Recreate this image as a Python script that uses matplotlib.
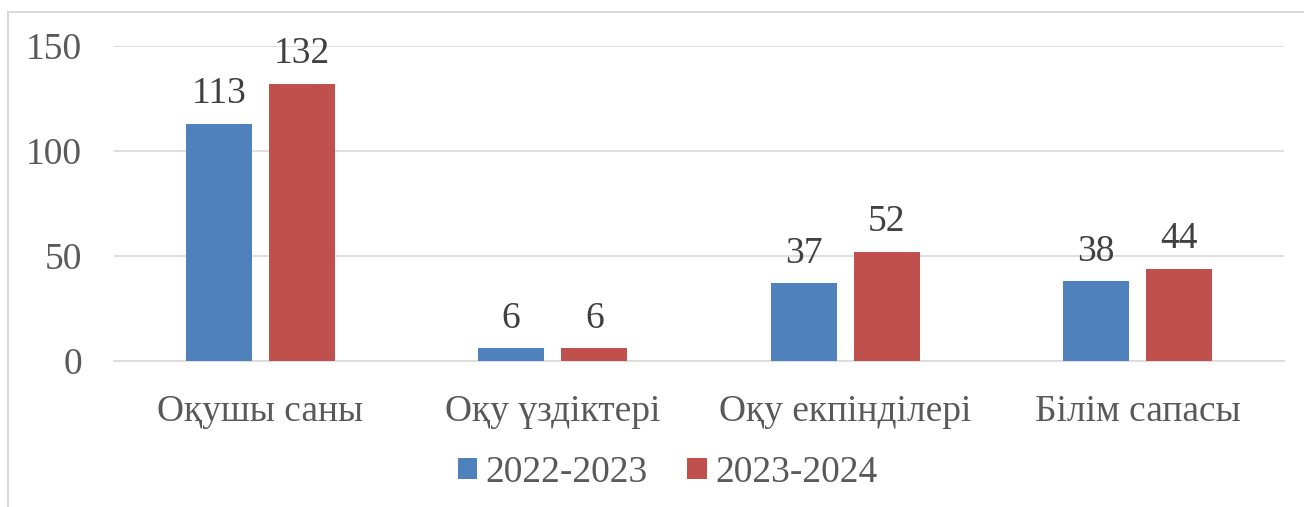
import numpy as np
import matplotlib.pyplot as plt
from matplotlib.patches import Rectangle

categories = ['Оқушы саны', 'Оқу үздіктері', 'Оқу екпінділері', 'Білім сапасы']
years = ['2022-2023', '2023-2024']
vals_2022 = [113, 6, 37, 38]
vals_2023 = [132, 6, 52, 44]

blue = '#4F81BD'
red = '#C0504D'
txt = '#595959'

plt.rcParams['font.family'] = ['Liberation Serif', 'DejaVu Serif']

fig = plt.figure(figsize=(13.04, 5.07), dpi=100)
ax = fig.add_axes([0.0874, 0.288, 0.8973, 0.6213])

x = np.arange(len(categories))
w = 0.226
off = 0.142
b1 = ax.bar(x - off, vals_2022, w, color=blue, label=years[0], zorder=3)
b2 = ax.bar(x + off, vals_2023, w, color=red, label=years[1], zorder=3)

for bars in (b1, b2):
    for r in bars:
        ax.annotate(f'{r.get_height():g}', (r.get_x() + r.get_width() / 2, r.get_height()),
                    xytext=(0, 9), textcoords='offset points', ha='center', va='bottom',
                    fontsize=27, color='#404040')

ax.set_xlim(-0.5, 3.5)
ax.set_ylim(0, 150)
ax.set_yticks([0, 50, 100, 150])
ax.yaxis.grid(True, color='#D9D9D9', linewidth=1.2, zorder=0)
ax.tick_params(axis='y', length=0, pad=23, labelsize=27, labelcolor=txt)
ax.set_xticks(x)
ax.set_xticklabels(categories)
ax.tick_params(axis='x', length=0, pad=24, labelsize=27, labelcolor=txt)
for s in ['top', 'right', 'left']:
    ax.spines[s].set_visible(False)
ax.spines['bottom'].set_color('#D9D9D9')
ax.spines['bottom'].set_linewidth(1.2)

fig.legend(loc='center', bbox_to_anchor=(0.512, 0.068), ncol=2, frameon=False,
           fontsize=27, labelcolor=txt, handlelength=0.52, handleheight=0.52,
           handletextpad=0.22, columnspacing=1.05)

# chart border
fig.patches.append(Rectangle((8 / 1304, -0.1), 1.2, 1 - 12 / 507 + 0.1,
                             transform=fig.transFigure, fill=False,
                             edgecolor='#D9D9D9', linewidth=1.5))

fig.savefig('out.png', dpi=100)
